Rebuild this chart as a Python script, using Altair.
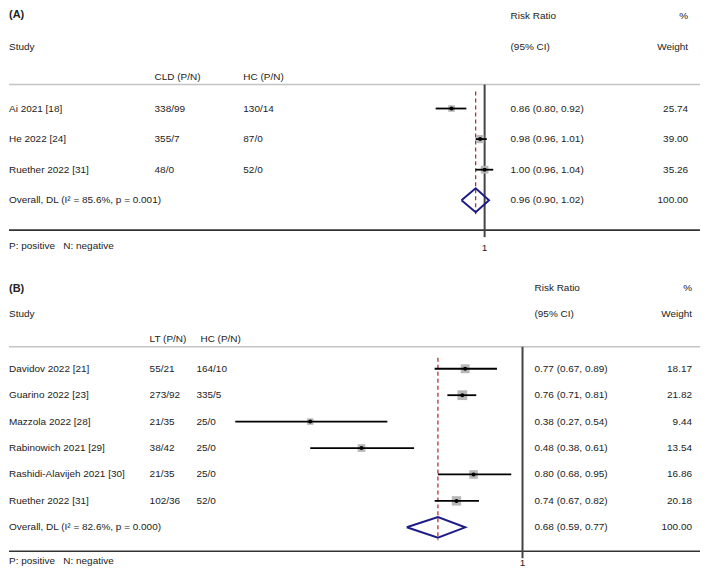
import altair as alt
import numpy as np
import pandas as pd

# ---------------- data: panel (A) ----------------
a_study = ["Ai 2021 [18]", "He 2022 [24]", "Ruether 2022 [31]"]
a_grp = ["338/99", "355/7", "48/0"]
a_hc = ["130/14", "87/0", "52/0"]
a_rr = [0.86, 0.98, 1.00]
a_lo = [0.80, 0.96, 0.96]
a_hi = [0.92, 1.01, 1.04]
a_weight = [25.74, 39.00, 35.26]
a_overall = [0.96, 0.90, 1.02]  # estimate, lower, upper
a_overall_label = "Overall, DL (I\u00b2 = 85.6%, p = 0.001)"
a_cols = ["CLD (P/N)", "HC (P/N)"]

# ---------------- data: panel (B) ----------------
b_study = ["Davidov 2022 [21]", "Guarino 2022 [23]", "Mazzola 2022 [28]",
           "Rabinowich 2021 [29]", "Rashidi-Alavijeh 2021 [30]", "Ruether 2022 [31]"]
b_grp = ["55/21", "273/92", "21/35", "38/42", "21/35", "102/36"]
b_hc = ["164/10", "335/5", "25/0", "25/0", "25/0", "52/0"]
b_rr = [0.77, 0.76, 0.38, 0.48, 0.80, 0.74]
b_lo = [0.67, 0.71, 0.27, 0.38, 0.68, 0.67]
b_hi = [0.89, 0.81, 0.54, 0.61, 0.95, 0.82]
b_weight = [18.17, 21.82, 9.44, 13.54, 16.86, 20.18]
b_overall = [0.68, 0.59, 0.77]
b_overall_label = "Overall, DL (I\u00b2 = 82.6%, p = 0.000)"
b_cols = ["LT (P/N)", "HC (P/N)"]

note = "P: positive\u00a0\u00a0\u00a0N: negative"

FONT = "Liberation Sans"
TXT = "#222222"
W = 693
PX_LN = 220.0


def label(text, x, y, align="left", bold=False, size=10):
    return alt.Chart(pd.DataFrame({"t": [text]})).mark_text(
        align=align, baseline="middle", font=FONT, fontSize=size,
        fontWeight="bold" if bold else "normal", color=TXT
    ).encode(text="t:N", x=alt.value(x), y=alt.value(y))


def hrule(x1, x2, y, color, width):
    return alt.Chart(pd.DataFrame({"k": [0]})).mark_rule(
        color=color, strokeWidth=width
    ).encode(x=alt.value(x1), x2=alt.value(x2), y=alt.value(y))


def panel(tag, study, grp, hc, rr, lo, hi, wt, overall, overall_label, cols, g):
    H = g["H"]
    n = len(study)
    xs = alt.Scale(type="log", nice=False,
                   domain=[float(np.exp(-g["one_x"] / PX_LN)),
                           float(np.exp((W - g["one_x"]) / PX_LN))])
    ys = alt.Scale(domain=[-g["y0"] / g["dy"], (H - g["y0"]) / g["dy"]],
                   reverse=True, nice=False, zero=False)

    df = pd.DataFrame({
        "study": study, "grp": grp, "hc": hc, "rr": rr, "lo": lo, "hi": hi,
        "w": wt, "row": list(range(n)),
    })
    df["ci"] = [f"{r:.2f} ({l:.2f}, {h:.2f})" for r, l, h in zip(rr, lo, hi)]
    df["wtxt"] = [f"{w:.2f}" for w in wt]

    est, olo, ohi = overall
    ov = pd.DataFrame({"label": [overall_label],
                       "ci": [f"{est:.2f} ({olo:.2f}, {ohi:.2f})"],
                       "wtxt": ["100.00"], "row": [n], "est": [est]})
    hd = 0.39
    dia = pd.DataFrame({
        "x": [olo, est, ohi, est, olo],
        "y": [n, n - hd, n, n + hd, n],
        "o": [0, 1, 2, 3, 4],
    })
    one = pd.DataFrame({"v": [1.0]})

    Y = alt.Y("row:Q", scale=ys, axis=None)
    cx = g["cx"]

    def col(data, field, x, align="left"):
        return alt.Chart(data).mark_text(
            align=align, baseline="middle", font=FONT, fontSize=10, color=TXT
        ).encode(x=alt.value(x), y=Y, text=f"{field}:N")

    boxes = alt.Chart(df).transform_calculate(
        area=f"datum.w * {g['box']}"
    ).mark_point(shape="square", filled=True, fill="#b8b8b8", stroke="#b8b8b8",
                 strokeWidth=0, opacity=1).encode(
        x=alt.X("rr:Q", scale=xs, axis=None), y=Y,
        size=alt.Size("area:Q", scale=None))

    layers = [
        label(tag, 0, g["y_tag"], bold=True, size=11),
        label("Risk Ratio", cx["ci"], g["y_h1"]),
        label("%", cx["w"], g["y_h1"], align="right"),
        label("Study", 0, g["y_h2"]),
        label("(95% CI)", cx["ci"], g["y_h2"]),
        label("Weight", cx["w"], g["y_h2"], align="right"),
        label(cols[0], cx["c1"], g["y_h3"]),
        label(cols[1], cx["c2"], g["y_h3"]),
        hrule(0, W, g["y_gray"], "#c4c4c4", 1.5),
        hrule(0, W, g["y_black"], "#333333", 1.6),
        label(note, 0, g["y_pn"]),
        # vertical no-effect line at 1
        alt.Chart(one).mark_rule(color="#444444", strokeWidth=2).encode(
            x=alt.X("v:Q", scale=xs, axis=None),
            y=alt.value(g["y_gray"]), y2=alt.value(g["y_vend"])),
        alt.Chart(one).mark_text(font=FONT, fontSize=10, color=TXT, baseline="middle").encode(
            x=alt.X("v:Q", scale=xs, axis=None), y=alt.value(g["y_one"]),
            text=alt.Text("v:Q", format="d")),
        # overall estimate dashed line
        alt.Chart(ov).mark_rule(color="#b22222", strokeWidth=1.2, strokeDash=[4, 3]).encode(
            x=alt.X("est:Q", scale=xs, axis=None),
            y=alt.value(g["y_red0"]), y2=alt.value(g["y_red1"])),
        # weight boxes
        boxes,
        # CI lines
        alt.Chart(df).mark_rule(color="black", strokeWidth=1.8).encode(
            x=alt.X("lo:Q", scale=xs, axis=None), x2="hi:Q", y=Y),
        # point estimate
        alt.Chart(df).mark_circle(color="black", size=16, opacity=1).encode(
            x=alt.X("rr:Q", scale=xs, axis=None), y=Y),
        # overall diamond
        alt.Chart(dia).mark_line(color="#1c1c86", strokeWidth=2).encode(
            x=alt.X("x:Q", scale=xs, axis=None),
            y=alt.Y("y:Q", scale=ys, axis=None), order="o:Q"),
        # text columns
        col(df, "study", 0),
        col(df, "grp", cx["c1"]),
        col(df, "hc", cx["c2v"]),
        col(df, "ci", cx["ci"]),
        col(df, "wtxt", cx["w"], align="right"),
        col(ov, "label", 0),
        col(ov, "ci", cx["ci"]),
        col(ov, "wtxt", cx["w"], align="right"),
    ]
    return alt.layer(*layers).properties(width=W, height=H)


geo_a = dict(H=270, one_x=477, y0=99, dy=30.67,
             y_tag=5, y_h1=6, y_h2=37, y_h3=67, y_gray=75, y_black=221,
             y_vend=228, y_one=239, y_pn=237, y_red0=82, y_red1=207, box=1.7,
             cx=dict(c1=146, c2=235, c2v=235, ci=503, w=681))
geo_b = dict(H=291, one_x=515, y0=90, dy=26.5,
             y_tag=10, y_h1=9, y_h2=35, y_h3=60, y_gray=68, y_black=273,
             y_vend=280, y_one=285, y_pn=283, y_red0=79, y_red1=262, box=4.4,
             cx=dict(c1=141, c2=192, c2v=188, ci=527, w=685))

pa = panel("(A)", a_study, a_grp, a_hc, a_rr, a_lo, a_hi, a_weight,
           a_overall, a_overall_label, a_cols, geo_a)
pb = panel("(B)", b_study, b_grp, b_hc, b_rr, b_lo, b_hi, b_weight,
           b_overall, b_overall_label, b_cols, geo_b)

chart = alt.vconcat(pa, pb, spacing=0).properties(padding=0).configure_view(stroke=None)
chart.save("out.html", embed_options={"renderer": "svg", "actions": False})
